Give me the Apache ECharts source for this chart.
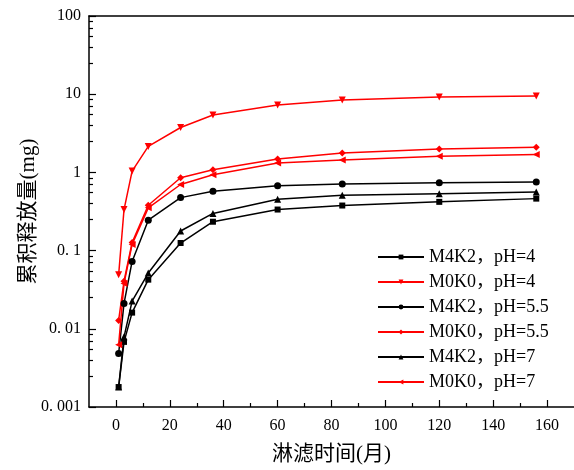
<!DOCTYPE html>
<html><head><meta charset="utf-8">
<script src="https://cdn.jsdelivr.net/npm/echarts@6/dist/echarts.min.js"></script>
<style>html,body{margin:0;padding:0;background:#fff}#c{width:574px;height:470px}</style>
</head><body><div id="c"></div>
<script>
const months = [1, 3, 6, 12, 24, 36, 60, 84, 120, 156];
const m4k2_ph4   = [0.0018, 0.0068, 0.0161, 0.0425, 0.125, 0.234, 0.335, 0.377, 0.42, 0.462];
const m0k0_ph4   = [0.049, 0.335, 1.04, 2.15, 3.75, 5.43, 7.28, 8.41, 9.19, 9.46];
const m4k2_ph55  = [0.00484, 0.0211, 0.0727, 0.245, 0.476, 0.573, 0.676, 0.71, 0.738, 0.753];
const m0k0_ph55  = [0.0128, 0.0406, 0.127, 0.38, 0.853, 1.08, 1.48, 1.77, 1.99, 2.09];
const m4k2_ph7   = [0.0018, 0.0079, 0.0226, 0.0517, 0.178, 0.299, 0.453, 0.509, 0.535, 0.562];
const m0k0_ph7   = [0.00624, 0.038, 0.12, 0.352, 0.70, 0.933, 1.32, 1.44, 1.61, 1.69];
const seriesNames = ['M4K2，pH=4', 'M0K0，pH=4', 'M4K2，pH=5.5', 'M0K0，pH=5.5', 'M4K2，pH=7', 'M0K0，pH=7'];
const xTicks = [0, 20, 40, 60, 80, 100, 120, 140, 160];
const xMinorTicks = [10, 30, 50, 70, 90, 110, 130, 150];
const yTickLabels = {0.001: '0. 001', 0.01: '0. 01', 0.1: '0. 1', 1: '1', 10: '10', 100: '100'};
const xTitle = '淋滤时间(月)';
const yTitle = '累积释放量(mg)';

const FONT = "'Liberation Serif', 'Times New Roman', 'Noto Sans CJK SC', serif";
const RED = '#ff0000', BLACK = '#000000';

function pairs(vals) { return months.map((m, i) => [m, vals[i]]); }
const defs = [
  {d: m4k2_ph4, c: BLACK, s: 'rect', r: 0, sz: 6},
  {d: m0k0_ph4, c: RED, s: 'triangle', r: 180, sz: 7},
  {d: m4k2_ph55, c: BLACK, s: 'circle', r: 0, sz: 7},
  {d: m0k0_ph55, c: RED, s: 'diamond', r: 0, sz: 7},
  {d: m4k2_ph7, c: BLACK, s: 'triangle', r: 0, sz: 7},
  {d: m0k0_ph7, c: RED, s: 'triangle', r: 90, sz: 7}
];

const chart = echarts.init(document.getElementById('c'), null, {renderer: 'canvas'});
chart.setOption({
  animation: false,
  backgroundColor: '#fff',
  grid: {left: 89, right: -5, top: 16, bottom: 60, containLabel: false},
  legend: {
    orient: 'vertical', left: 377, top: 248, padding: 0, itemWidth: 46, itemHeight: 6, itemGap: 7,
    textStyle: {fontFamily: FONT, fontSize: 18, lineHeight: 18, color: '#000'},
    data: seriesNames
  },
  xAxis: [
    {type: 'value', min: -10, max: 170, position: 'bottom',
     axisLine: {show: true, onZero: false, lineStyle: {color: '#000', width: 1.5}},
     axisTick: {show: true, inside: true, length: 7, customValues: xTicks, lineStyle: {color: '#000', width: 1.2}},
     axisLabel: {show: true, customValues: xTicks, margin: 11, fontFamily: FONT, fontSize: 16, color: '#000'},
     splitLine: {show: false},
     name: xTitle, nameLocation: 'middle', nameGap: 37, nameMoveOverlap: false,
     nameTextStyle: {fontFamily: FONT, fontSize: 21, color: '#000'}},
    {type: 'value', min: -10, max: 170, position: 'bottom',
     axisLine: {show: false, onZero: false},
     axisTick: {show: true, inside: true, length: 4, customValues: xMinorTicks, lineStyle: {color: '#000', width: 1.2}},
     axisLabel: {show: false}, splitLine: {show: false}},
    {type: 'value', min: -10, max: 170, position: 'top',
     axisLine: {show: true, onZero: false, lineStyle: {color: '#000', width: 1.5}},
     axisTick: {show: false}, axisLabel: {show: false}, splitLine: {show: false}}
  ],
  yAxis: [{
    type: 'log', logBase: 10, min: 0.001, max: 100, position: 'left',
    axisLine: {show: true, onZero: false, lineStyle: {color: '#000', width: 1.5}},
    axisTick: {show: true, inside: true, length: 7, lineStyle: {color: '#000', width: 1.2}},
    minorTick: {show: true, splitNumber: 6, length: 4, lineStyle: {color: '#000', width: 1.2}},
    axisLabel: {margin: 8, fontFamily: FONT, fontSize: 16, color: '#000',
      formatter: v => yTickLabels[v] !== undefined ? yTickLabels[v] : String(v)},
    splitLine: {show: false}, minorSplitLine: {show: false},
    name: yTitle, nameLocation: 'middle', nameGap: 50, nameMoveOverlap: false,
    nameTextStyle: {fontFamily: FONT, fontSize: 21, color: '#000'}
  }],
  series: defs.map((o, i) => ({
    name: seriesNames[i], type: 'line', xAxisIndex: 0, yAxisIndex: 0,
    data: pairs(o.d), symbol: o.s, symbolSize: o.sz, symbolRotate: o.r,
    showAllSymbol: true,
    lineStyle: {color: o.c, width: 1.5}, itemStyle: {color: o.c},
    z: 3
  }))
});
</script></body></html>
